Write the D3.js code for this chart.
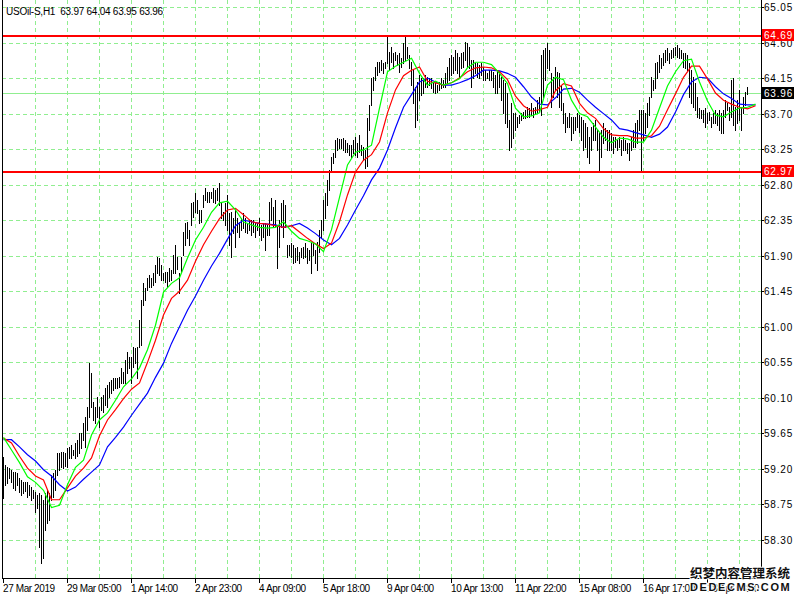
<!DOCTYPE html>
<html><head><meta charset="utf-8">
<script src="https://cdn.jsdelivr.net/npm/d3@7"></script>
<style>body{margin:0;background:#fff;} svg{display:block;}</style>
</head><body>
<svg id="c" width="800" height="600"></svg>
<script>
const symbolTitle = "USOil-S,H1";
const lastOHLC = [63.97, 64.04, 63.95, 63.96];

const highs = [
59.35,59.25,59.22,59.21,59.19,59.16,59.16,59.15,59.09,59.06,
59.03,59.03,59.03,59.00,58.97,58.93,58.91,58.87,58.90,58.87,
58.81,58.90,58.93,58.90,59.12,59.15,59.19,59.40,59.40,59.41,
59.41,59.40,59.47,59.48,59.50,59.44,59.53,59.57,59.65,59.65,
59.78,59.86,59.98,60.54,60.41,60.05,59.98,60.11,59.98,60.11,
60.14,60.22,60.26,60.30,60.33,60.35,60.35,60.35,60.36,60.48,
60.43,60.58,60.68,60.62,60.62,60.74,60.73,60.74,61.09,61.34,
61.55,61.49,61.62,61.66,61.62,61.68,61.78,61.88,61.87,61.78,
61.68,61.69,61.69,61.75,61.72,61.91,62.04,61.88,61.68,61.88,
62.20,62.31,62.33,62.23,62.57,62.58,62.69,62.61,62.48,62.48,
62.67,62.76,62.71,62.71,62.71,62.76,62.73,62.76,62.82,62.57,
62.45,62.57,62.67,62.44,62.45,62.38,62.48,62.38,62.33,62.38,
62.44,62.38,62.31,62.35,62.35,62.35,62.31,62.31,62.38,62.29,
62.31,62.31,62.29,62.58,62.63,62.52,62.61,62.29,62.35,62.57,
62.61,62.54,62.04,62.04,62.06,62.04,62.00,62.01,61.95,62.00,
62.01,62.06,62.00,61.97,62.06,62.07,61.97,62.07,62.23,62.35,
62.61,62.70,62.86,62.99,63.15,63.20,63.37,63.39,63.38,63.38,
63.39,63.37,63.33,63.30,63.30,63.37,63.40,63.33,63.43,63.30,
63.28,63.24,63.64,63.81,64.15,64.16,64.29,64.35,64.35,64.38,
64.34,64.35,64.69,64.48,64.54,64.47,64.48,64.44,64.47,64.40,
64.59,64.69,64.54,64.44,64.35,64.25,64.04,64.10,64.19,64.15,
64.15,64.19,64.16,64.15,64.15,64.10,64.09,64.06,64.10,64.15,
64.13,64.21,64.29,64.40,64.44,64.42,64.51,64.47,64.42,64.47,
64.48,64.61,64.59,64.54,64.38,64.38,64.34,64.34,64.32,64.34,
64.29,64.25,64.21,64.25,64.25,64.23,64.19,64.25,64.23,64.16,
64.13,64.09,63.96,63.62,63.83,63.71,63.71,63.66,63.68,63.71,
63.72,63.75,63.78,63.77,63.83,63.77,63.78,63.87,63.91,64.44,
64.51,64.53,64.59,64.51,64.21,64.16,64.29,64.23,64.21,64.06,
63.83,63.71,63.66,63.71,63.66,63.66,63.66,63.71,63.68,63.66,
63.62,63.58,63.53,63.40,63.53,63.58,63.62,63.49,63.45,63.49,
63.58,63.52,63.49,63.49,63.45,63.40,63.40,63.37,63.40,63.37,
63.40,63.37,63.33,63.33,63.40,63.49,63.58,63.62,63.75,63.75,
63.75,63.71,63.83,63.91,64.16,64.13,64.34,64.35,64.44,64.40,
64.47,64.51,64.53,64.47,64.51,64.53,64.54,64.57,64.53,64.51,
64.47,64.47,64.44,64.34,64.25,64.16,64.09,63.91,63.77,63.75,
63.75,63.77,63.71,63.72,63.66,63.71,63.75,63.71,63.75,63.71,
63.75,63.87,63.83,63.78,64.13,64.15,63.78,63.87,64.00,63.78,
63.91,63.97,64.04
];

const lows = [
58.83,59.00,59.02,59.09,59.03,58.96,58.93,59.00,58.91,58.87,
58.90,58.92,58.84,58.87,58.81,58.83,58.65,58.70,58.21,58.01,
58.07,58.43,58.52,58.55,58.81,58.84,58.93,59.12,59.19,59.22,
59.21,59.24,59.22,59.34,59.34,59.38,59.34,59.36,59.40,59.47,
59.57,59.48,59.69,59.86,59.98,59.82,59.78,59.86,59.73,59.95,
59.92,60.01,59.98,60.11,60.16,60.20,60.22,60.22,60.24,60.29,
60.29,60.29,60.41,60.48,60.29,60.49,60.54,60.35,60.74,60.77,
61.28,61.34,61.47,61.51,61.51,61.53,61.57,61.68,61.66,61.59,
61.59,61.57,61.51,61.58,61.59,61.68,61.68,61.73,61.43,61.69,
61.91,62.04,62.12,62.04,62.29,62.39,62.45,62.44,62.31,62.33,
62.52,62.61,62.58,62.58,62.63,62.58,62.57,62.61,62.54,62.38,
62.35,62.29,62.23,62.04,61.88,62.19,62.01,62.20,62.14,62.23,
62.25,62.20,62.19,62.23,62.16,62.20,62.14,62.23,62.16,62.10,
62.14,61.97,62.16,62.16,62.35,62.26,62.26,61.74,62.01,62.26,
62.14,62.26,61.88,61.91,61.88,61.81,61.82,61.85,61.81,61.88,
61.87,61.88,61.81,61.85,61.68,61.91,61.81,61.72,61.95,62.12,
62.23,62.38,62.54,62.73,62.96,63.07,63.15,63.24,63.26,63.26,
63.24,63.21,63.21,63.18,63.15,63.20,63.18,63.15,63.21,63.18,
63.11,63.01,63.04,63.49,63.81,64.00,64.13,64.19,64.23,64.25,
64.21,64.28,64.34,64.25,64.35,64.28,64.38,64.32,64.23,64.29,
64.34,64.38,64.40,64.28,64.06,63.83,63.53,63.62,63.87,63.94,
63.96,64.04,64.04,64.06,64.02,63.97,63.96,63.97,64.00,64.02,
64.04,64.04,64.09,64.13,64.19,64.21,64.25,64.21,64.16,64.28,
64.29,64.38,64.29,64.28,64.04,64.15,64.21,64.16,64.15,64.19,
64.13,64.13,64.15,64.13,64.13,64.04,63.96,63.96,64.04,63.87,
63.71,63.58,63.53,63.24,63.28,63.39,63.49,63.53,63.58,63.62,
63.64,63.64,63.66,63.66,63.68,63.66,63.71,63.71,63.72,63.68,
63.91,64.13,64.28,64.25,63.78,63.91,64.00,63.91,63.78,63.75,
63.58,63.47,63.53,63.53,63.37,63.45,63.49,63.53,63.47,63.37,
63.24,63.28,63.15,63.07,63.24,63.37,63.37,63.24,62.97,63.15,
63.33,63.37,63.24,63.24,63.24,63.20,63.28,63.24,63.28,63.18,
63.24,63.24,63.20,63.11,63.24,63.28,63.28,63.33,63.49,62.97,
63.37,63.45,63.53,63.68,63.91,64.00,64.02,64.15,64.23,64.28,
64.32,64.35,64.38,64.34,64.40,64.42,64.44,64.42,64.40,64.40,
64.29,64.28,64.25,63.91,63.83,63.78,63.75,63.66,63.64,63.64,
63.59,63.53,63.58,63.62,63.53,63.58,63.58,63.56,63.49,63.45,
63.45,63.66,63.75,63.62,63.66,63.56,63.49,63.58,63.62,63.49,
63.71,63.81,63.95
];

// Alligator lines, one value every 4 bars
const maStep = 4;
const lipsGreen = [59.60,59.44,59.28,59.10,59.03,58.93,58.71,58.74,59.00,59.22,
59.31,59.63,59.82,59.91,60.07,60.24,60.34,60.48,60.71,61.02,
61.44,61.55,61.62,61.87,62.10,62.26,62.45,62.57,62.59,62.48,
62.33,62.29,62.26,62.25,62.26,62.33,62.21,62.12,62.09,62.05,
61.95,62.23,62.64,63.05,63.21,63.24,63.30,63.77,64.23,64.30,
64.35,64.40,64.21,64.06,64.11,64.06,64.09,64.14,64.28,64.35,
64.35,64.32,64.21,64.08,63.77,63.66,63.67,63.71,64.06,64.16,
64.13,63.87,63.70,63.66,63.53,63.40,63.33,63.39,63.38,63.34,
63.34,63.49,63.77,64.05,64.23,64.37,64.39,64.10,63.86,63.68,
63.66,63.72,63.77,63.78,63.82];
const teethRed = [59.59,59.53,59.36,59.21,59.11,59.06,58.81,58.81,58.96,59.11,
59.21,59.34,59.62,59.82,59.95,60.09,60.21,60.29,60.55,60.83,
61.15,61.36,61.45,61.59,61.83,62.04,62.21,62.37,62.48,62.50,
62.42,62.33,62.31,62.30,62.28,62.26,62.28,62.20,62.12,62.05,
61.99,62.06,62.33,62.67,62.96,63.11,63.18,63.34,63.71,64.00,
64.18,64.25,64.29,64.11,64.09,64.06,64.09,64.15,64.23,64.28,
64.29,64.28,64.23,64.13,63.92,63.80,63.73,63.75,63.78,63.99,
64.08,64.05,63.83,63.71,63.64,63.51,63.43,63.42,63.42,63.39,
63.39,63.42,63.54,63.75,63.95,64.16,64.30,64.30,64.14,63.96,
63.87,63.82,63.78,63.76,63.80];
const jawBlue = [59.57,59.57,59.48,59.38,59.30,59.19,59.11,59.00,58.92,58.97,
59.07,59.16,59.25,59.48,59.60,59.73,59.88,60.02,60.16,60.36,
60.54,60.79,61.00,61.21,61.39,61.59,61.77,61.93,62.11,62.28,
62.35,62.33,62.31,62.30,62.29,62.26,62.28,62.31,62.25,62.18,
62.10,62.04,62.12,62.29,62.48,62.66,62.86,63.01,63.24,63.52,
63.78,63.94,64.10,64.15,64.10,64.06,64.06,64.09,64.13,64.18,
64.25,64.25,64.24,64.21,64.16,64.04,63.91,63.82,63.81,63.90,
64.01,64.02,63.97,63.87,63.78,63.70,63.62,63.51,63.49,63.46,
63.43,63.40,63.44,63.53,63.72,63.94,64.10,64.16,64.15,64.04,
63.95,63.89,63.82,63.81,63.81];

const priceTicks = [65.05,64.60,64.15,63.70,63.25,62.80,62.35,61.90,61.45,61.00,60.55,60.10,59.65,59.20,58.75,58.30];
const timeLabels = ["27 Mar 2019","29 Mar 05:00","1 Apr 14:00","2 Apr 23:00","4 Apr 09:00","5 Apr 18:00","9 Apr 04:00","10 Apr 13:00","11 Apr 22:00","15 Apr 08:00","16 Apr 17:00","18 Apr 03:00"];
const timeLabelStep = 32;
const gridStep = 16;
const levelLines = [64.69, 62.97];
const bidPrice = 63.96;

const svg = d3.select("#c");
const L = 2, R = 761, B = 578;
const N = highs.length;
const x = d3.scaleLinear().domain([0, N - 1]).range([3, 3 + 2 * (N - 1)]);
const y = d3.scaleLinear().domain([58.30, 65.05]).range([540, 7]);
const px = v => Math.round(v) + 0.5;
const GRID = "#90EE90";
const FONT = "'Liberation Sans', Arial, sans-serif";

svg.append("rect").attr("width", 800).attr("height", 600).attr("fill", "#fff");

svg.append("defs").append("clipPath").attr("id", "plot")
  .append("rect").attr("x", L + 1).attr("y", 0).attr("width", R - L - 1).attr("height", B);

const g = svg.append("g").attr("shape-rendering", "crispEdges");

// horizontal grid
g.selectAll("line.hg").data(priceTicks).join("line").attr("class", "hg")
  .attr("x1", L).attr("x2", R).attr("y1", d => px(y(d))).attr("y2", d => px(y(d)))
  .attr("stroke", GRID).attr("stroke-dasharray", "4,3");
// vertical grid
const vIdx = d3.range(gridStep, N + 8, gridStep).filter(i => x(i) < R);
g.selectAll("line.vg").data(vIdx).join("line").attr("class", "vg")
  .attr("x1", d => px(x(d))).attr("x2", d => px(x(d))).attr("y1", 0).attr("y2", B)
  .attr("stroke", GRID).attr("stroke-dasharray", "4,3");

// bid line
g.append("line").attr("x1", L).attr("x2", R)
  .attr("y1", px(y(bidPrice))).attr("y2", px(y(bidPrice))).attr("stroke", GRID);

const pg = svg.append("g").attr("clip-path", "url(#plot)");

// bars (high-low)
pg.append("g").attr("shape-rendering", "crispEdges")
  .selectAll("rect").data(highs).join("rect")
  .attr("x", (d, i) => Math.round(x(i)))
  .attr("width", 1)
  .attr("y", d => Math.round(y(d)))
  .attr("height", (d, i) => Math.max(1, Math.round(y(lows[i])) - Math.round(y(d)) + 1))
  .attr("fill", "#000");

// alligator lines
const line = d3.line().x((d, k) => x(k * maStep) + 0.5).y(d => y(d));
[[jawBlue, "#0000FF"], [teethRed, "#FF0000"], [lipsGreen, "#00FF00"]].forEach(([arr, c]) => {
  pg.append("path").attr("d", line(arr)).attr("fill", "none").attr("stroke", c).attr("stroke-width", 1.2);
});

// level lines
pg.selectAll("line.lvl").data(levelLines).join("line").attr("class", "lvl")
  .attr("shape-rendering", "crispEdges")
  .attr("x1", L).attr("x2", R).attr("y1", d => Math.round(y(d)) + 1).attr("y2", d => Math.round(y(d)) + 1)
  .attr("stroke", "#FF0000").attr("stroke-width", 2);

// borders
g.append("line").attr("x1", L + 0.5).attr("x2", L + 0.5).attr("y1", 0).attr("y2", B + 1).attr("stroke", "#000");
g.append("line").attr("x1", R + 0.5).attr("x2", R + 0.5).attr("y1", 0).attr("y2", B + 1).attr("stroke", "#000");
g.append("line").attr("x1", L).attr("x2", R + 1).attr("y1", B + 0.5).attr("y2", B + 0.5).attr("stroke", "#000");

// price axis
const ax = svg.append("g");
ax.selectAll("line").data(priceTicks).join("line")
  .attr("shape-rendering", "crispEdges")
  .attr("x1", R).attr("x2", R + 3).attr("y1", d => px(y(d))).attr("y2", d => px(y(d))).attr("stroke", "#000");
ax.selectAll("text").data(priceTicks).join("text")
  .attr("x", 764).attr("y", d => Math.round(y(d)) + 4)
  .attr("font-family", FONT).attr("font-size", 10).attr("letter-spacing", 0.8)
  .attr("fill", "#000").text(d => d.toFixed(2));

// level labels
const tagData = levelLines.map(v => ({ v, c: "#FF0000" })).concat([{ v: bidPrice, c: "#000" }]);
tagData.forEach(t => {
  const cy = Math.round(y(t.v));
  svg.append("rect").attr("x", R + 1).attr("y", cy - 6).attr("width", 32).attr("height", 12)
    .attr("fill", t.c).attr("shape-rendering", "crispEdges");
  svg.append("text").attr("x", 764).attr("y", cy + 4)
    .attr("font-family", FONT).attr("font-size", 10).attr("letter-spacing", 0.8)
    .attr("fill", "#fff").text(t.v.toFixed(2));
});

// time axis
const tIdx = timeLabels.map((t, k) => ({ t, i: k * timeLabelStep }));
svg.selectAll("line.tt").data(tIdx).join("line").attr("class", "tt")
  .attr("shape-rendering", "crispEdges")
  .attr("x1", d => px(x(d.i))).attr("x2", d => px(x(d.i))).attr("y1", B + 1).attr("y2", B + 5).attr("stroke", "#000");
svg.selectAll("text.tl").data(tIdx).join("text").attr("class", "tl")
  .attr("x", d => Math.round(x(d.i))).attr("y", 592)
  .attr("font-family", FONT).attr("font-size", 10).attr("letter-spacing", -0.4)
  .attr("fill", "#000").text(d => d.t);

// header
svg.append("text").attr("x", 6).attr("y", 15)
  .attr("font-family", FONT).attr("font-size", 10).attr("letter-spacing", -0.25)
  .style("white-space", "pre").attr("fill", "#000")
  .text(symbolTitle + "  " + lastOHLC.map(v => v.toFixed(2)).join(" "));

// watermark
svg.append("text").attr("x", 690).attr("y", 578)
  .attr("font-family", "'Noto Sans CJK SC', sans-serif").attr("font-weight", "bold").attr("font-size", 12.5)
  .attr("fill", "#111").attr("stroke", "#fff").attr("stroke-width", 2).attr("paint-order", "stroke")
  .text("织梦内容管理系统");
svg.append("text").attr("x", 690).attr("y", 591)
  .attr("font-family", FONT).attr("font-weight", "bold").attr("font-size", 11).attr("letter-spacing", 1.6)
  .attr("fill", "#111").attr("stroke", "#fff").attr("stroke-width", 2).attr("paint-order", "stroke")
  .text("DEDECMS.COM");
</script>
</body></html>
